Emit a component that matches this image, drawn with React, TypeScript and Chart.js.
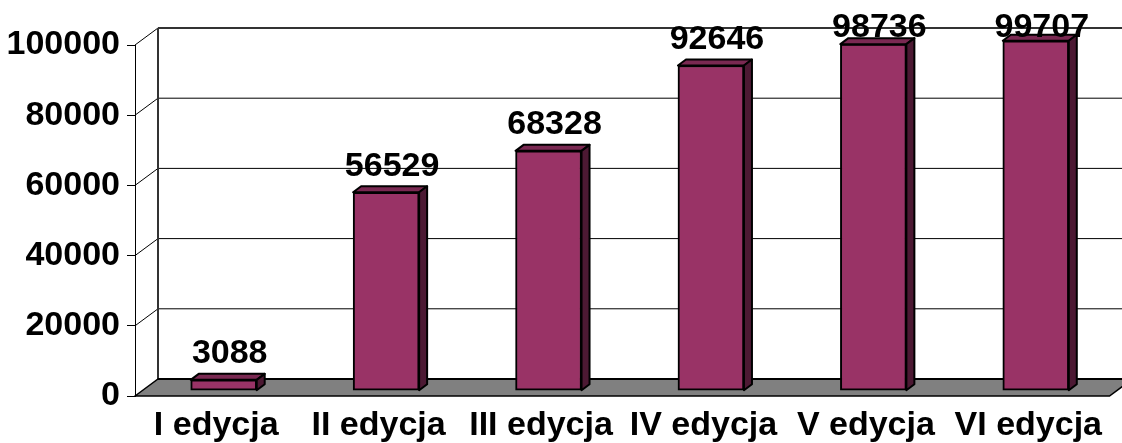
import React, { useEffect, useRef } from "react";
import { Chart, registerables } from "chart.js";

Chart.register(...registerables);

const categories = ["I edycja", "II edycja", "III edycja", "IV edycja", "V edycja", "VI edycja"];
const values = [3088, 56529, 68328, 92646, 98736, 99707];
const yMin = 0;
const yMax = 100000;
const yStep = 20000;

const FONT = "'Liberation Sans', Arial, sans-serif";
const FONT_SIZE = 34;
const WALL_DX = 23;
const WALL_DY = 17;
const BAR_DX = 7.5;
const BAR_DY = 5.3;
const SIDE_DX = 8;
const SIDE_DY = 6;
const FRONT = "#993366";
const TOP = "#7a2952";
const SIDE = "#4c1933";

const threeD = {
  id: "threeD",
  beforeDatasetsDraw(chart: any) {
    const { ctx, chartArea, scales } = chart;
    const y = scales.y;
    const L = chartArea.left;
    const R = chartArea.right;
    const W = chart.width;
    const y0 = y.getPixelForValue(0);
    const yTop = y.getPixelForValue(yMax);
    ctx.save();
    y.ticks.forEach((t: any) => {
      if (t.value === 0) return;
      const py = y.getPixelForValue(t.value);
      ctx.beginPath();
      ctx.moveTo(L + WALL_DX, py - WALL_DY);
      ctx.lineTo(W, py - WALL_DY);
      if (t.value === yMax) {
        ctx.strokeStyle = "#333333";
        ctx.lineWidth = 2;
      } else {
        ctx.strokeStyle = "#000000";
        ctx.lineWidth = 1;
      }
      ctx.stroke();
      ctx.beginPath();
      ctx.moveTo(L, py);
      ctx.lineTo(L + WALL_DX, py - WALL_DY);
      ctx.strokeStyle = "#000000";
      ctx.lineWidth = 1;
      ctx.stroke();
    });
    ctx.beginPath();
    ctx.moveTo(L + WALL_DX, yTop - WALL_DY);
    ctx.lineTo(L + WALL_DX, y0 - WALL_DY);
    ctx.strokeStyle = "#333333";
    ctx.lineWidth = 2;
    ctx.stroke();
    ctx.beginPath();
    ctx.moveTo(L, y0);
    ctx.lineTo(L + WALL_DX, y0 - WALL_DY);
    ctx.lineTo(R + WALL_DX, y0 - WALL_DY);
    ctx.lineTo(R, y0);
    ctx.closePath();
    ctx.fillStyle = "#808080";
    ctx.fill();
    ctx.strokeStyle = "#000000";
    ctx.lineWidth = 1.5;
    ctx.stroke();
    ctx.beginPath();
    ctx.moveTo(L + WALL_DX, y0 - WALL_DY);
    ctx.lineTo(W, y0 - WALL_DY);
    ctx.lineWidth = 2;
    ctx.stroke();
    ctx.restore();
    ctx.save();
    ctx.translate(BAR_DX, -BAR_DY);
  },
  afterDatasetsDraw(chart: any) {
    const { ctx } = chart;
    const meta = chart.getDatasetMeta(0);
    meta.data.forEach((bar: any) => {
      const p = bar.getProps(["x", "y", "base", "width"], true);
      const l = p.x - p.width / 2;
      const r = p.x + p.width / 2;
      const t = p.y;
      const b = p.base;
      ctx.lineWidth = 2;
      ctx.strokeStyle = "#000000";
      ctx.lineJoin = "round";
      ctx.beginPath();
      ctx.moveTo(l, t);
      ctx.lineTo(l + SIDE_DX, t - SIDE_DY);
      ctx.lineTo(r + SIDE_DX, t - SIDE_DY);
      ctx.lineTo(r, t);
      ctx.closePath();
      ctx.fillStyle = TOP;
      ctx.fill();
      ctx.stroke();
      ctx.beginPath();
      ctx.moveTo(r, t);
      ctx.lineTo(r + SIDE_DX, t - SIDE_DY);
      ctx.lineTo(r + SIDE_DX, b - SIDE_DY);
      ctx.lineTo(r, b);
      ctx.closePath();
      ctx.fillStyle = SIDE;
      ctx.fill();
      ctx.stroke();
    });
    ctx.restore();
    ctx.save();
    ctx.font = `bold ${FONT_SIZE}px ${FONT}`;
    ctx.fillStyle = "#000000";
    ctx.textAlign = "center";
    ctx.textBaseline = "alphabetic";
    meta.data.forEach((bar: any, i: number) => {
      const p = bar.getProps(["x", "y"], true);
      const x = p.x + BAR_DX + 6;
      const baseline = Math.max(p.y - BAR_DY - 16.5, 36.7);
      ctx.fillText(String(values[i]), x, baseline);
    });
    ctx.restore();
  },
};

export default function App() {
  const ref = useRef<HTMLCanvasElement | null>(null);
  useEffect(() => {
    if (!ref.current) return;
    const chart = new Chart(ref.current, {
      type: "bar",
      data: {
        labels: categories,
        datasets: [
          {
            data: values,
            backgroundColor: FRONT,
            borderColor: "#000000",
            borderWidth: 2,
            borderSkipped: false,
            barThickness: 66,
            clip: false as any,
          },
        ],
      },
      options: {
        responsive: false,
        animation: false,
        devicePixelRatio: 1,
        layout: { padding: { top: 45, right: 12.5, left: 0, bottom: 0 } },
        plugins: { legend: { display: false }, tooltip: { enabled: false } },
        scales: {
          x: {
            grid: { display: false, drawTicks: false },
            border: { display: false },
            ticks: {
              color: "#000000",
              font: { family: FONT, size: FONT_SIZE, weight: "bold" },
              padding: 9,
              maxRotation: 0,
              autoSkip: false,
            },
            afterFit: (s: any) => {
              s.height = 47;
            },
          },
          y: {
            min: yMin,
            max: yMax,
            grid: { drawOnChartArea: false, drawTicks: true, tickLength: 8, color: "#000000" },
            border: { display: true, color: "#000000", width: 1 },
            ticks: {
              stepSize: yStep,
              color: "#000000",
              font: { family: FONT, size: FONT_SIZE, weight: "bold" },
              padding: 7,
              callback: (v: any) => String(v),
            },
            afterFit: (s: any) => {
              s.width = 135;
            },
          },
        },
      },
      plugins: [threeD],
    });
    return () => chart.destroy();
  }, []);
  return (
    <div style={{ position: "absolute", left: 0, top: 0, width: 1122, height: 443, background: "#ffffff" }}>
      <canvas ref={ref} width={1122} height={443} style={{ display: "block" }} />
    </div>
  );
}
